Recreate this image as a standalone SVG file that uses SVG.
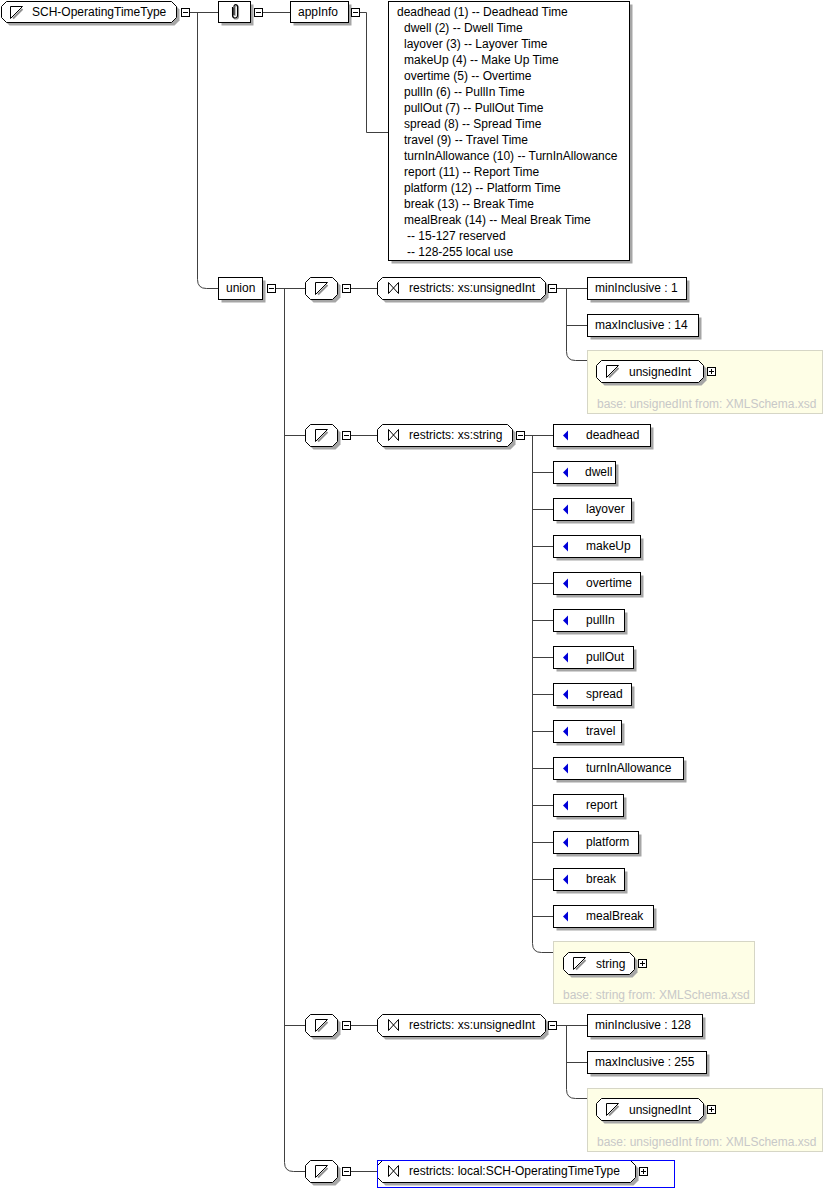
<svg xmlns="http://www.w3.org/2000/svg" xmlns:xlink="http://www.w3.org/1999/xlink" width="825" height="1190" viewBox="0 0 825 1190">
<style>
.bx{fill:#fff;stroke:#000;stroke-width:1}
.sh{fill:#a6a6a6;stroke:none}
.ln{fill:none;stroke:#404040;stroke-width:1}
.t{font-family:"Liberation Sans",Arial,sans-serif;font-size:12px;fill:#000}
.g{font-family:"Liberation Sans",Arial,sans-serif;font-size:12px;fill:#c8c8c8}
.yb{fill:#fefee6;stroke:#d6d6c6;stroke-width:1}
</style>
<defs>
<g id="st">
<path d="M3,12.5 L12.5,3" stroke="#909090" stroke-width="2" fill="none"/>
<path d="M0.5,12.5 V0.5 H12.5 Z" fill="#fff" stroke="#000" stroke-width="1"/>
</g>
<path id="bow" d="M0.5,0.5 V11.5 L10.5,0.5 V11.5 Z" fill="none" stroke="#000" stroke-width="1"/>
<g id="minus"><rect x="0.5" y="0.5" width="8" height="8" fill="#fff" stroke="#000"/><path d="M2,4.5 H7" stroke="#000"/></g>
<g id="plus"><rect x="0.5" y="0.5" width="8" height="8" fill="#fff" stroke="#000"/><path d="M2,4.5 H7 M4.5,2 V7" stroke="#000"/></g>
<path id="tri" d="M0,5 L5,0 V10 Z" fill="#0000d8"/>
<g id="choice">
<path class="sh" transform="translate(3,3)" d="M310.5,-10.5 H332.5 L337.5,-5.5 V6.5 L332.5,11.5 H310.5 L305.5,6.5 V-5.5 Z"/>
<path class="bx" d="M310.5,-10.5 H332.5 L337.5,-5.5 V6.5 L332.5,11.5 H310.5 L305.5,6.5 V-5.5 Z"/>
<use xlink:href="#st" href="#st" x="315" y="-6"/>
<use xlink:href="#minus" href="#minus" x="342" y="-4"/>
</g>
<g id="rUI">
<path class="sh" transform="translate(3,3)" d="M382.5,-10.5 H540.5 L545.5,-5.5 V6.5 L540.5,11.5 H382.5 L377.5,6.5 V-5.5 Z"/>
<path class="bx" d="M382.5,-10.5 H540.5 L545.5,-5.5 V6.5 L540.5,11.5 H382.5 L377.5,6.5 V-5.5 Z"/>
<use xlink:href="#bow" href="#bow" x="388" y="-6"/>
<text class="t" x="409" y="4">restricts: xs:unsignedInt</text>
<use xlink:href="#minus" href="#minus" x="548" y="-4"/>
</g>
<g id="uint">
<rect class="yb" x="587.5" y="-20.5" width="235" height="63"/>
<path class="sh" transform="translate(3,3)" d="M601.5,-10.5 H698.5 L703.5,-5.5 V6.5 L698.5,11.5 H601.5 L596.5,6.5 V-5.5 Z"/>
<path class="bx" d="M601.5,-10.5 H698.5 L703.5,-5.5 V6.5 L698.5,11.5 H601.5 L596.5,6.5 V-5.5 Z"/>
<use xlink:href="#st" href="#st" x="606" y="-6"/>
<text class="t" x="629" y="5">unsignedInt</text>
<use xlink:href="#plus" href="#plus" x="707" y="-4"/>
<text class="g" x="597" y="37">base: unsignedInt from: XMLSchema.xsd</text>
</g>
</defs>
<rect width="825" height="1190" fill="#fff"/>

<g id="connectors" class="ln">
<path d="M189.5,12.5 H218"/>
<path d="M197.5,12.5 V279.5 Q197.5,288.5 206.5,288.5 H218"/>
<path d="M262.5,12.5 H290"/>
<path d="M359.5,12.5 H366.5 V132.5 H388"/>
<path d="M275.5,288.5 H305"/>
<path d="M284.5,288.5 V1162.5 Q284.5,1171.5 293.5,1171.5 H305"/>
<path d="M284.5,435.5 H305 M284.5,1025.5 H305"/>
<path d="M350.5,288.5 H377 M350.5,435.5 H377 M350.5,1025.5 H377 M350.5,1171.5 H377"/>
<path d="M556.5,288.5 H587 M566.5,325.5 H587"/>
<path d="M566.5,288.5 V351.5 Q566.5,360.5 575.5,360.5 H587"/>
<path d="M524.5,435.5 H553"/>
<path d="M532.5,435.5 V943.5 Q532.5,952.5 541.5,952.5 H553"/>
<path d="M532.5,472.5 H553 M532.5,509.5 H553 M532.5,546.5 H553 M532.5,583.5 H553 M532.5,620.5 H553 M532.5,657.5 H553 M532.5,694.5 H553 M532.5,731.5 H553 M532.5,768.5 H553 M532.5,805.5 H553 M532.5,842.5 H553 M532.5,879.5 H553 M532.5,916.5 H553"/>
<path d="M556.5,1025.5 H587 M566.5,1062.5 H587"/>
<path d="M566.5,1025.5 V1089.5 Q566.5,1098.5 575.5,1098.5 H587"/>
</g>

<g id="root">
<path class="sh" transform="translate(3,3)" d="M6.5,1.5 H171.5 L176.5,6.5 V17.5 L171.5,22.5 H6.5 L1.5,17.5 V6.5 Z"/>
<path class="bx" d="M6.5,1.5 H171.5 L176.5,6.5 V17.5 L171.5,22.5 H6.5 L1.5,17.5 V6.5 Z"/>
<use xlink:href="#st" href="#st" x="10" y="6"/>
<text class="t" x="32" y="16">SCH-OperatingTimeType</text>
<use xlink:href="#minus" href="#minus" x="181" y="8"/>
</g>

<g id="annotation">
<rect class="sh" x="221.5" y="4.5" width="32" height="21"/>
<rect class="bx" x="218.5" y="1.5" width="32" height="21"/>
<path d="M232.5,7 V15.5 A2.5,2.5 0 0 0 237.5,15.5 V6 A1.8,1.8 0 0 0 234,6 V15" fill="none" stroke="#909090" stroke-width="1.2" transform="translate(1,1)"/>
<path d="M232.5,7 V15.5 A2.5,2.5 0 0 0 237.5,15.5 V6 A1.8,1.8 0 0 0 234,6 V15" fill="none" stroke="#000" stroke-width="1.1"/>
<use xlink:href="#minus" href="#minus" x="254" y="8"/>
</g>

<g id="appInfo">
<rect class="sh" x="293.5" y="4.5" width="58" height="21"/>
<rect class="bx" x="290.5" y="1.5" width="58" height="21"/>
<text class="t" x="298" y="16">appInfo</text>
<use xlink:href="#minus" href="#minus" x="351" y="8"/>
</g>

<g id="doc">
<rect class="sh" x="391.5" y="4.5" width="241" height="259"/>
<rect class="bx" x="388.5" y="1.5" width="241" height="259"/>
<text class="t" x="397" y="16">deadhead (1) -- Deadhead Time</text>
<text class="t" x="404" y="32">dwell (2) -- Dwell Time</text>
<text class="t" x="404" y="48">layover (3) -- Layover Time</text>
<text class="t" x="404" y="64">makeUp (4) -- Make Up Time</text>
<text class="t" x="404" y="80">overtime (5) -- Overtime</text>
<text class="t" x="404" y="96">pullIn (6) -- PullIn Time</text>
<text class="t" x="404" y="112">pullOut (7) -- PullOut Time</text>
<text class="t" x="404" y="128">spread (8) -- Spread Time</text>
<text class="t" x="404" y="144">travel (9) -- Travel Time</text>
<text class="t" x="404" y="160">turnInAllowance (10) -- TurnInAllowance</text>
<text class="t" x="404" y="176">report (11) -- Report Time</text>
<text class="t" x="404" y="192">platform (12) -- Platform Time</text>
<text class="t" x="404" y="208">break (13) -- Break Time</text>
<text class="t" x="404" y="224">mealBreak (14) -- Meal Break Time</text>
<text class="t" x="407" y="240">-- 15-127 reserved</text>
<text class="t" x="407" y="256">-- 128-255 local use</text>
</g>

<g id="union">
<rect class="sh" x="221.5" y="280.5" width="44" height="22"/>
<rect class="bx" x="218.5" y="277.5" width="44" height="22"/>
<text class="t" x="226" y="292">union</text>
<use xlink:href="#minus" href="#minus" x="267" y="284"/>
</g>

<g id="member1" transform="translate(0,288)">
<use xlink:href="#choice" href="#choice"/>
<use xlink:href="#rUI" href="#rUI"/>
</g>
<g id="min1">
<rect class="sh" x="590.5" y="280.5" width="99" height="22"/>
<rect class="bx" x="587.5" y="277.5" width="99" height="22"/>
<text class="t" x="595" y="292">minInclusive : 1</text>
</g>
<g id="max1">
<rect class="sh" x="590.5" y="317.5" width="111" height="22"/>
<rect class="bx" x="587.5" y="314.5" width="111" height="22"/>
<text class="t" x="595" y="329">maxInclusive : 14</text>
</g>
<g id="base1" transform="translate(0,371)">
<use xlink:href="#uint" href="#uint"/>
</g>

<g id="member2" transform="translate(0,435)">
<use xlink:href="#choice" href="#choice"/>
<path class="sh" transform="translate(3,3)" d="M382.5,-10.5 H507.5 L512.5,-5.5 V6.5 L507.5,11.5 H382.5 L377.5,6.5 V-5.5 Z"/>
<path class="bx" d="M382.5,-10.5 H507.5 L512.5,-5.5 V6.5 L507.5,11.5 H382.5 L377.5,6.5 V-5.5 Z"/>
<use xlink:href="#bow" href="#bow" x="388" y="-6"/>
<text class="t" x="409" y="4">restricts: xs:string</text>
<use xlink:href="#minus" href="#minus" x="516" y="-4"/>
</g>

<g id="enum-deadhead" transform="translate(0,435)">
<rect class="sh" x="556.5" y="-7.5" width="97" height="22"/><rect class="bx" x="553.5" y="-10.5" width="97" height="22"/>
<use xlink:href="#tri" href="#tri" x="563" y="-4.5"/><text class="t" x="586" y="4">deadhead</text>
</g>
<g id="enum-dwell" transform="translate(0,472)">
<rect class="sh" x="556.5" y="-7.5" width="62" height="22"/><rect class="bx" x="553.5" y="-10.5" width="62" height="22"/>
<use xlink:href="#tri" href="#tri" x="563" y="-4.5"/><text class="t" x="585" y="4">dwell</text>
</g>
<g id="enum-layover" transform="translate(0,509)">
<rect class="sh" x="556.5" y="-7.5" width="78" height="22"/><rect class="bx" x="553.5" y="-10.5" width="78" height="22"/>
<use xlink:href="#tri" href="#tri" x="563" y="-4.5"/><text class="t" x="586" y="4">layover</text>
</g>
<g id="enum-makeUp" transform="translate(0,546)">
<rect class="sh" x="556.5" y="-7.5" width="87" height="22"/><rect class="bx" x="553.5" y="-10.5" width="87" height="22"/>
<use xlink:href="#tri" href="#tri" x="563" y="-4.5"/><text class="t" x="586" y="4">makeUp</text>
</g>
<g id="enum-overtime" transform="translate(0,583)">
<rect class="sh" x="556.5" y="-7.5" width="87" height="22"/><rect class="bx" x="553.5" y="-10.5" width="87" height="22"/>
<use xlink:href="#tri" href="#tri" x="563" y="-4.5"/><text class="t" x="586" y="4">overtime</text>
</g>
<g id="enum-pullIn" transform="translate(0,620)">
<rect class="sh" x="556.5" y="-7.5" width="71" height="22"/><rect class="bx" x="553.5" y="-10.5" width="71" height="22"/>
<use xlink:href="#tri" href="#tri" x="563" y="-4.5"/><text class="t" x="586" y="4">pullIn</text>
</g>
<g id="enum-pullOut" transform="translate(0,657)">
<rect class="sh" x="556.5" y="-7.5" width="80" height="22"/><rect class="bx" x="553.5" y="-10.5" width="80" height="22"/>
<use xlink:href="#tri" href="#tri" x="563" y="-4.5"/><text class="t" x="586" y="4">pullOut</text>
</g>
<g id="enum-spread" transform="translate(0,694)">
<rect class="sh" x="556.5" y="-7.5" width="78" height="22"/><rect class="bx" x="553.5" y="-10.5" width="78" height="22"/>
<use xlink:href="#tri" href="#tri" x="563" y="-4.5"/><text class="t" x="586" y="4">spread</text>
</g>
<g id="enum-travel" transform="translate(0,731)">
<rect class="sh" x="556.5" y="-7.5" width="68" height="22"/><rect class="bx" x="553.5" y="-10.5" width="68" height="22"/>
<use xlink:href="#tri" href="#tri" x="563" y="-4.5"/><text class="t" x="586" y="4">travel</text>
</g>
<g id="enum-turnInAllowance" transform="translate(0,768)">
<rect class="sh" x="556.5" y="-7.5" width="130" height="22"/><rect class="bx" x="553.5" y="-10.5" width="130" height="22"/>
<use xlink:href="#tri" href="#tri" x="563" y="-4.5"/><text class="t" x="586" y="4">turnInAllowance</text>
</g>
<g id="enum-report" transform="translate(0,805)">
<rect class="sh" x="556.5" y="-7.5" width="70" height="22"/><rect class="bx" x="553.5" y="-10.5" width="70" height="22"/>
<use xlink:href="#tri" href="#tri" x="563" y="-4.5"/><text class="t" x="586" y="4">report</text>
</g>
<g id="enum-platform" transform="translate(0,842)">
<rect class="sh" x="556.5" y="-7.5" width="85" height="22"/><rect class="bx" x="553.5" y="-10.5" width="85" height="22"/>
<use xlink:href="#tri" href="#tri" x="563" y="-4.5"/><text class="t" x="586" y="4">platform</text>
</g>
<g id="enum-break" transform="translate(0,879)">
<rect class="sh" x="556.5" y="-7.5" width="71" height="22"/><rect class="bx" x="553.5" y="-10.5" width="71" height="22"/>
<use xlink:href="#tri" href="#tri" x="563" y="-4.5"/><text class="t" x="586" y="4">break</text>
</g>
<g id="enum-mealBreak" transform="translate(0,916)">
<rect class="sh" x="556.5" y="-7.5" width="100" height="22"/><rect class="bx" x="553.5" y="-10.5" width="100" height="22"/>
<use xlink:href="#tri" href="#tri" x="563" y="-4.5"/><text class="t" x="586" y="4">mealBreak</text>
</g>

<g id="base2" transform="translate(0,963)">
<rect class="yb" x="553.5" y="-21.5" width="201" height="62"/>
<path class="sh" transform="translate(3,3)" d="M568.5,-10.5 H629.5 L634.5,-5.5 V6.5 L629.5,11.5 H568.5 L563.5,6.5 V-5.5 Z"/>
<path class="bx" d="M568.5,-10.5 H629.5 L634.5,-5.5 V6.5 L629.5,11.5 H568.5 L563.5,6.5 V-5.5 Z"/>
<use xlink:href="#st" href="#st" x="573" y="-6"/>
<text class="t" x="596" y="5">string</text>
<use xlink:href="#plus" href="#plus" x="638" y="-4"/>
<text class="g" x="563" y="36">base: string from: XMLSchema.xsd</text>
</g>

<g id="member3" transform="translate(0,1025)">
<use xlink:href="#choice" href="#choice"/>
<use xlink:href="#rUI" href="#rUI"/>
</g>
<g id="min3">
<rect class="sh" x="590.5" y="1017.5" width="115" height="22"/>
<rect class="bx" x="587.5" y="1014.5" width="115" height="22"/>
<text class="t" x="595" y="1029">minInclusive : 128</text>
</g>
<g id="max3">
<rect class="sh" x="590.5" y="1054.5" width="119" height="22"/>
<rect class="bx" x="587.5" y="1051.5" width="119" height="22"/>
<text class="t" x="595" y="1066">maxInclusive : 255</text>
</g>
<g id="base3" transform="translate(0,1109)">
<use xlink:href="#uint" href="#uint"/>
</g>

<g id="member4" transform="translate(0,1171)">
<use xlink:href="#choice" href="#choice"/>
<path class="sh" transform="translate(3,3)" d="M382.5,-10.5 H630.5 L635.5,-5.5 V6.5 L630.5,11.5 H382.5 L377.5,6.5 V-5.5 Z"/>
<path class="bx" d="M382.5,-10.5 H630.5 L635.5,-5.5 V6.5 L630.5,11.5 H382.5 L377.5,6.5 V-5.5 Z"/>
<use xlink:href="#bow" href="#bow" x="388" y="-6"/>
<text class="t" x="409" y="4">restricts: local:SCH-OperatingTimeType</text>
<use xlink:href="#plus" href="#plus" x="639" y="-4"/>
<rect x="377.5" y="-10.5" width="297" height="27" fill="none" stroke="#0000ff"/>
</g>
</svg>
